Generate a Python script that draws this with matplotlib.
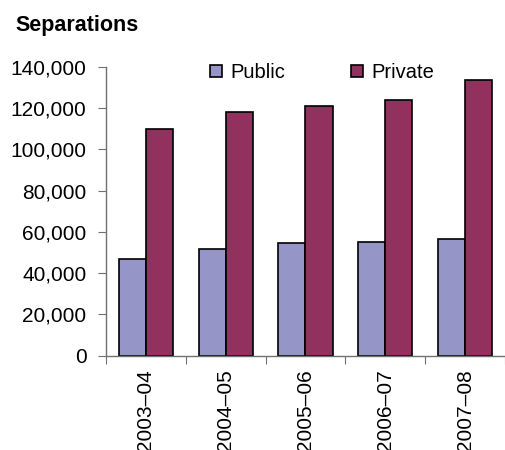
import numpy as np
import matplotlib
matplotlib.use("Agg")
import matplotlib.pyplot as plt
from matplotlib.ticker import FuncFormatter

matplotlib.rcParams['font.family'] = ['Liberation Sans', 'DejaVu Sans']

years = ["2003\u201304", "2004\u201305", "2005\u201306", "2006\u201307", "2007\u201308"]
public = [46700, 51500, 54400, 55200, 56400]
private = [109800, 118200, 121100, 124000, 133500]

label_size = 15
fig = plt.figure(figsize=(5.05, 4.5), dpi=100)
ax = fig.add_axes([0.2099, 0.2096, 1.0 - 0.2099, 0.6422])

x = np.arange(len(years))
w = 0.34
ax.bar(x - w/2, public, w, color="#9695C8", edgecolor="k", linewidth=1.2, label="Public")
ax.bar(x + w/2, private, w, color="#93315E", edgecolor="k", linewidth=1.2, label="Private")

ax.set_ylim(0, 140000)
ax.set_xlim(-0.5, 4.378)
ax.set_yticks(np.arange(0, 140001, 20000))
ax.yaxis.set_major_formatter(FuncFormatter(lambda v, p: "{:,.0f}".format(v)))

# ticks between categories, labels at centres
ax.set_xticks(np.arange(len(years) + 1) - 0.5)
ax.set_xticklabels([])
ax.set_xticks(x, minor=True)
ax.set_xticklabels(years, minor=True, rotation=90, fontsize=label_size)
ax.tick_params(axis="x", which="minor", length=0, pad=10)
ax.tick_params(axis="x", which="major", length=6, color="#707070", direction="out")
ax.tick_params(axis="y", length=6, color="#707070", labelsize=label_size, pad=8)

for s in ["top", "right"]:
    ax.spines[s].set_visible(False)
for s in ["left", "bottom"]:
    ax.spines[s].set_color("#707070")
    ax.spines[s].set_linewidth(1.0)

ax.legend(loc="upper left", bbox_to_anchor=(0.215, 1.075), ncol=2, frameon=False,
          fontsize=14.5, handlelength=0.6, handleheight=0.6, handletextpad=0.4,
          columnspacing=3.3)

fig.text(0.03, 0.943, "Separations", fontsize=15.5, fontweight="bold", va="center", ha="left")

fig.savefig("out.png", dpi=100)
